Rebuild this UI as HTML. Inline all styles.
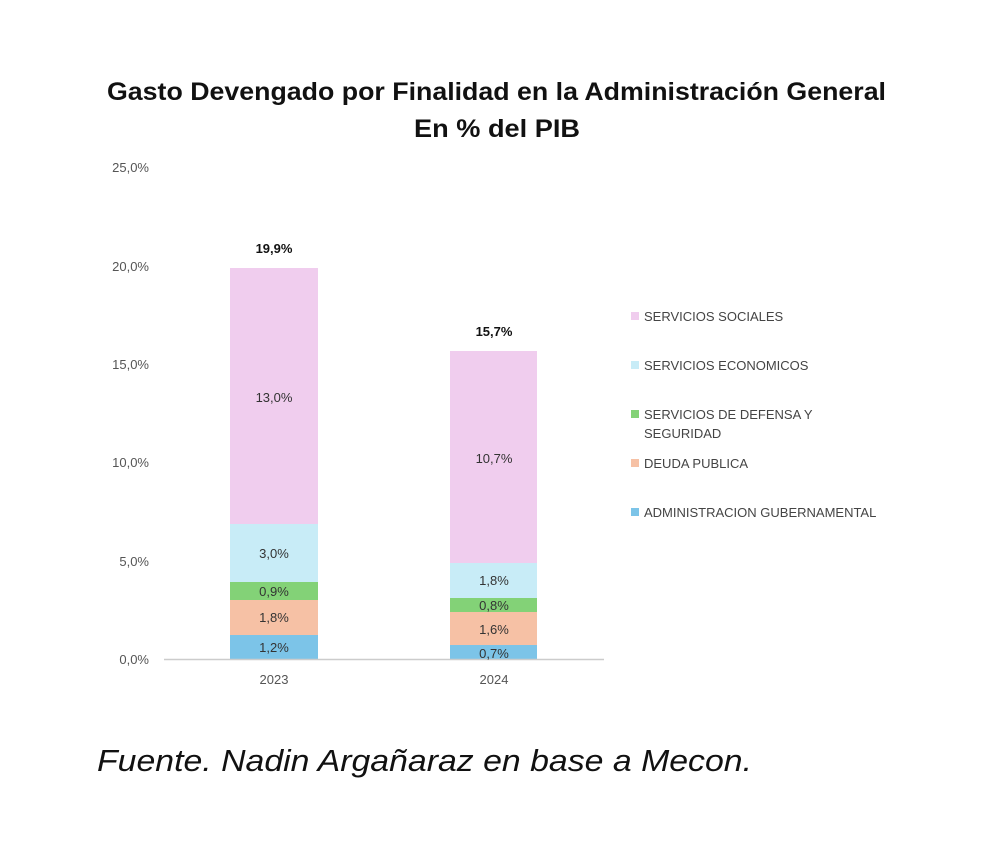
<!DOCTYPE html>
<html><head><meta charset="utf-8"><style>
body{margin:0;background:#fff;width:992px;height:850px;overflow:hidden;font-family:"Liberation Sans",sans-serif}
</style></head><body>
<svg width="992" height="850" xmlns="http://www.w3.org/2000/svg" font-family="Liberation Sans, sans-serif">
<rect width="992" height="850" fill="#fff"/>
<text x="107" y="100" textLength="779" lengthAdjust="spacingAndGlyphs" font-size="25" font-weight="bold" fill="#111">Gasto Devengado por Finalidad en la Administración General</text>
<text x="414" y="137" textLength="166" lengthAdjust="spacingAndGlyphs" font-size="25" font-weight="bold" fill="#111">En % del PIB</text>
<g font-size="13" fill="#555" text-anchor="end">
<text x="149" y="172">25,0%</text><text x="149" y="271">20,0%</text><text x="149" y="369">15,0%</text>
<text x="149" y="467">10,0%</text><text x="149" y="566">5,0%</text><text x="149" y="664">0,0%</text>
</g>
<g>
<rect x="230" y="268" width="88" height="256" fill="#f0cdee"/>
<rect x="230" y="524" width="88" height="58" fill="#c8ecf7"/>
<rect x="230" y="582" width="88" height="18" fill="#83d277"/>
<rect x="230" y="600" width="88" height="35" fill="#f6c1a5"/>
<rect x="230" y="635" width="88" height="24" fill="#7cc4e8"/>
<rect x="450" y="351" width="87" height="212" fill="#f0cdee"/>
<rect x="450" y="563" width="87" height="35" fill="#c8ecf7"/>
<rect x="450" y="598" width="87" height="14" fill="#83d277"/>
<rect x="450" y="612" width="87" height="33" fill="#f6c1a5"/>
<rect x="450" y="645" width="87" height="14" fill="#7cc4e8"/>
</g>
<line x1="164" y1="659.5" x2="604" y2="659.5" stroke="#ccc" stroke-width="1.5"/>
<g font-size="13" fill="#333" text-anchor="middle">
<text x="274" y="402">13,0%</text><text x="274" y="558">3,0%</text><text x="274" y="596">0,9%</text>
<text x="274" y="622">1,8%</text><text x="274" y="652">1,2%</text>
<text x="494" y="463">10,7%</text><text x="494" y="585">1,8%</text><text x="494" y="610">0,8%</text>
<text x="494" y="634">1,6%</text><text x="494" y="658">0,7%</text>
<text x="274" y="684" fill="#555">2023</text><text x="494" y="684" fill="#555">2024</text>
<text x="274" y="253" font-weight="bold" fill="#111">19,9%</text>
<text x="494" y="336" font-weight="bold" fill="#111">15,7%</text>
</g>
<g font-size="13" fill="#444">
<rect x="631" y="312" width="8" height="8" fill="#f0cdee"/><text x="644" y="321">SERVICIOS SOCIALES</text>
<rect x="631" y="361" width="8" height="8" fill="#c8ecf7"/><text x="644" y="370">SERVICIOS ECONOMICOS</text>
<rect x="631" y="410" width="8" height="8" fill="#83d277"/><text x="644" y="419">SERVICIOS DE DEFENSA Y</text><text x="644" y="438">SEGURIDAD</text>
<rect x="631" y="459" width="8" height="8" fill="#f6c1a5"/><text x="644" y="468">DEUDA PUBLICA</text>
<rect x="631" y="508" width="8" height="8" fill="#7cc4e8"/><text x="644" y="517">ADMINISTRACION GUBERNAMENTAL</text>
</g>
<text x="97" y="771" textLength="655" lengthAdjust="spacingAndGlyphs" font-size="31" font-style="italic" fill="#111">Fuente. Nadin Argañaraz en base a Mecon.</text>
</svg>
</body></html>
